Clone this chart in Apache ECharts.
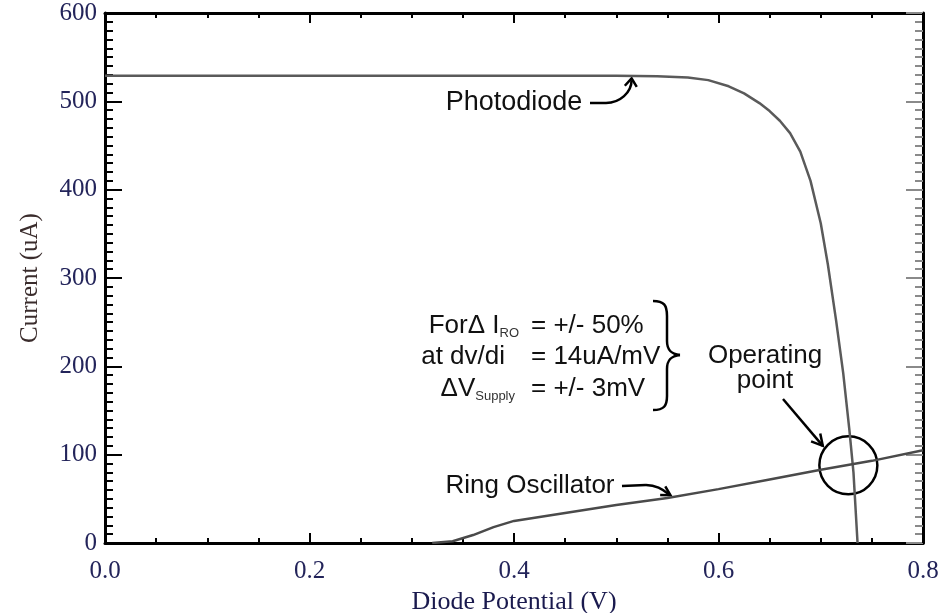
<!DOCTYPE html>
<html><head><meta charset="utf-8">
<script src="https://cdn.jsdelivr.net/npm/echarts@6/dist/echarts.min.js"></script>
<style>html,body{margin:0;padding:0;background:#fff}#c{width:952px;height:613px}</style>
</head><body><div id="c"></div>
<script>
// ---- data ----
const photodiodeV = [0, 0.1, 0.2, 0.3, 0.4, 0.5, 0.54, 0.57, 0.59, 0.61, 0.625, 0.64, 0.65, 0.66, 0.67, 0.68, 0.69, 0.70, 0.707, 0.715, 0.722, 0.728, 0.732, 0.736];
const photodiodeI = [529, 529, 529, 529, 529, 529, 528.5, 527, 524, 517, 509, 498, 489, 478, 464, 443, 410, 362, 315, 252, 192, 128, 80, 0];
const ringV = [0.32, 0.34, 0.36, 0.38, 0.40, 0.45, 0.50, 0.55, 0.60, 0.65, 0.70, 0.75, 0.80];
const ringI = [0, 2, 9, 18, 25, 34, 43, 51, 61, 72, 83, 93, 105];
const xTicks = [0.0, 0.2, 0.4, 0.6, 0.8];
const yTicks = [0, 100, 200, 300, 400, 500, 600];
const operatingPoint = [0.727, 88];

const chart = echarts.init(document.getElementById('c'), null, {renderer: 'canvas'});
const labelColor = '#23245a';
const serif = 'Liberation Serif';
const sans = 'Liberation Sans';

function xAxisCfg(pos, show) {
  return {
    type: 'value', position: pos, min: xTicks[0], max: xTicks[xTicks.length - 1], interval: 0.2,
    axisLine: {show: true, onZero: false, lineStyle: {color: '#000', width: 3}},
    axisTick: {show: true, inside: true, length: 10, lineStyle: {color: '#000', width: 2}},
    minorTick: {show: true, splitNumber: 4, length: 5, lineStyle: {color: '#000', width: 2}},
    splitLine: {show: false},
    axisLabel: {show: show, margin: 16, color: labelColor, fontFamily: serif, fontSize: 25,
      formatter: v => v.toFixed(1)},
    name: show ? 'Diode Potential (V)' : '', nameLocation: 'middle', nameGap: 35,
    nameTextStyle: {color: '#1a1a4e', fontFamily: serif, fontSize: 26}
  };
}
function yAxisCfg(pos, show, tickColor) {
  return {
    type: 'value', position: pos, min: yTicks[0], max: yTicks[yTicks.length - 1], interval: 100,
    axisLine: {show: true, onZero: false, lineStyle: {color: '#000', width: 3}},
    axisTick: {show: true, inside: true, length: 17, lineStyle: {color: tickColor, width: 2}},
    minorTick: {show: true, splitNumber: 10, length: 8, lineStyle: {color: tickColor, width: 2}},
    splitLine: {show: false},
    axisLabel: {show: show, margin: 8, color: labelColor, fontFamily: serif, fontSize: 25},
    name: show ? 'Current (uA)' : '', nameLocation: 'middle', nameGap: 62, nameRotate: 90,
    nameTextStyle: {color: '#3a2c2c', fontFamily: serif, fontSize: 25}
  };
}

chart.setOption({
  animation: false,
  backgroundColor: '#fff',
  grid: {left: 105, right: 29, top: 13, bottom: 70, containLabel: false, outerBoundsMode: 'none'},
  xAxis: [xAxisCfg('bottom', true), xAxisCfg('top', false)],
  yAxis: [yAxisCfg('left', true, '#000'), yAxisCfg('right', false, '#8a8a8a')],
  series: [
    {type: 'line', name: 'Photodiode', xAxisIndex: 0, yAxisIndex: 0, showSymbol: false, smooth: false,
      lineStyle: {color: '#5a5a5a', width: 2.5},
      data: photodiodeV.map((v, i) => [v, photodiodeI[i]])},
    {type: 'line', name: 'Ring Oscillator', xAxisIndex: 0, yAxisIndex: 0, showSymbol: false, smooth: false,
      lineStyle: {color: '#4a4a4a', width: 2.5},
      data: ringV.map((v, i) => [v, ringI[i]])}
  ]
});

const P = (x, y) => chart.convertToPixel({xAxisIndex: 0, yAxisIndex: 0}, [x, y]);
const stroke = {stroke: '#000', lineWidth: 2.5, fill: null};
function head(tip, from, len, half) {
  const dx = tip[0] - from[0], dy = tip[1] - from[1];
  const d = Math.hypot(dx, dy) || 1;
  const ux = dx / d, uy = dy / d, px = -uy, py = ux;
  const bx = tip[0] - ux * len, by = tip[1] - uy * len;
  return {type: 'polyline', shape: {points: [[bx + px * half, by + py * half], tip, [bx - px * half, by - py * half]]},
    style: Object.assign({}, stroke)};
}
const seg = (x1, y1, x2, y2) => ({type: 'line', shape: {x1, y1, x2, y2}, style: Object.assign({}, stroke)});
const bez = (x1, y1, c1x, c1y, c2x, c2y, x2, y2) => ({type: 'bezierCurve',
  shape: {x1, y1, cpx1: c1x, cpy1: c1y, cpx2: c2x, cpy2: c2y, x2, y2}, style: Object.assign({}, stroke)});

const op = P(operatingPoint[0], operatingPoint[1]);
const pdTip = P(0.515, 526);
const roTip = P(0.553, 54);
const opTip = P(0.702, 110);

const txt = (x, y, text, align, size) => ({
  type: 'text', x: x, y: y,
  style: {text: text, fill: '#111', font: size + 'px ' + sans, align: align, verticalAlign: 'middle'}
});
const rich = {n: {fontFamily: sans, fontSize: 26, fill: '#111'}, s: {fontFamily: sans, fontSize: 13, fill: '#333', padding: [15, 0, 0, 0]}};

const graphics = [
  // Photodiode label + arrow
  txt(514, 103, 'Photodiode', 'center', 27),
  seg(590, 103, 606, 103),
  bez(606, 103, 620, 103, pdTip[0], pdTip[1] + 14, pdTip[0], pdTip[1] + 2),
  head([pdTip[0], pdTip[1]], [pdTip[0] - 1, pdTip[1] + 10], 8, 6),
  // Ring oscillator label + arrow
  txt(530, 486, 'Ring Oscillator', 'center', 26),
  seg(622, 486, 646, 485),
  bez(646, 485, 658, 485, roTip[0] - 6, roTip[1] - 4, roTip[0], roTip[1]),
  head([roTip[0], roTip[1]], [roTip[0] - 10, roTip[1] - 6], 9, 5),
  // Operating point
  txt(765, 356, 'Operating', 'center', 26),
  txt(765, 381, 'point', 'center', 26),
  seg(783, 399, opTip[0], opTip[1]),
  head([opTip[0], opTip[1]], [783, 399], 11, 6),
  {type: 'circle', shape: {cx: op[0], cy: op[1], r: 29}, style: Object.assign({}, stroke)},
  // text block
  {type: 'text', x: 519, y: 326, style: {rich: rich, text: '{n|ForΔ I}{s|RO}', align: 'right', verticalAlign: 'middle'}},
  txt(531, 326, '= +/- 50%', 'left', 26),
  txt(505, 357, 'at dv/di', 'right', 26),
  txt(531, 357, '= 14uA/mV', 'left', 26),
  {type: 'text', x: 515, y: 389, style: {rich: rich, text: '{n|ΔV}{s|Supply}', align: 'right', verticalAlign: 'middle'}},
  txt(531, 389, '= +/- 3mV', 'left', 26),
  // brace
  bez(653, 301, 664, 301, 667, 305, 667, 316),
  seg(667, 316, 667, 341),
  bez(667, 341, 667, 350, 671, 354, 680, 355),
  bez(680, 355, 671, 356, 667, 360, 667, 369),
  seg(667, 369, 667, 396),
  bez(667, 396, 667, 406, 664, 410, 653, 410)
];
chart.setOption({graphic: graphics});
</script>
</body></html>
